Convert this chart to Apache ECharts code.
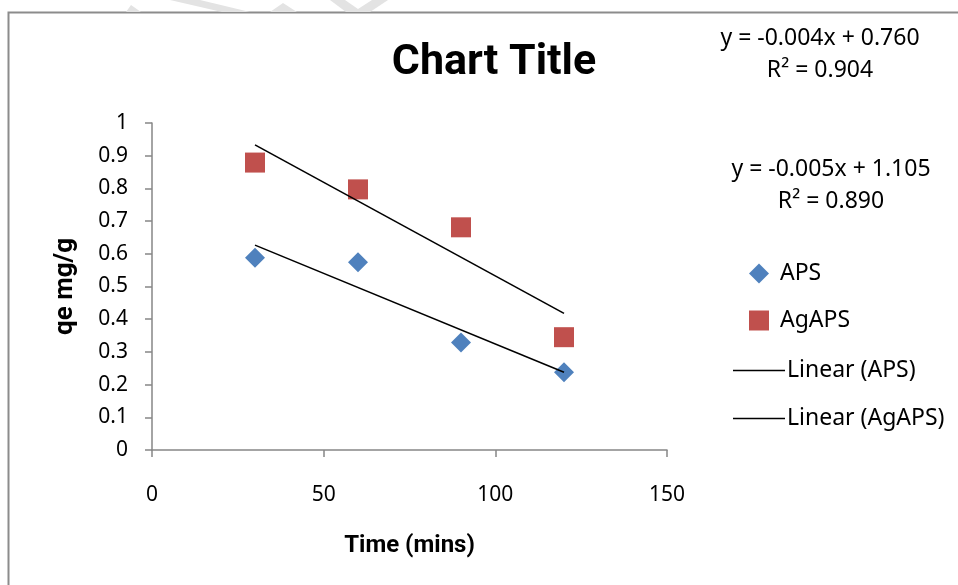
<!DOCTYPE html>
<html>
<head>
<meta charset="utf-8">
<script src="https://cdn.jsdelivr.net/npm/echarts@6/dist/echarts.min.js"></script>
<style>
  html, body { margin: 0; padding: 0; background: #fff; }
  #chart { width: 958px; height: 585px; }
</style>
</head>
<body>
<div id="chart"></div>
<script>
// Sampling times (minutes) and measured adsorption capacity qe (mg/g)
const times = [30, 60, 90, 120];
const apsValues = [0.588, 0.574, 0.329, 0.238];
const agapsValues = [0.879, 0.797, 0.681, 0.345];

// Trendline equations as printed beside the plot
const apsEquation = ['y = -0.004x + 0.760', 'R² = 0.904'];
const agapsEquation = ['y = -0.005x + 1.105', 'R² = 0.890'];

// Axis ranges
const xTicks = [0, 50, 100, 150];
const yTicks = [0, 0.1, 0.2, 0.3, 0.4, 0.5, 0.6, 0.7, 0.8, 0.9, 1];

// Least-squares fit, evaluated at the first and last sample time
function linearFit(xs, ys) {
  const n = xs.length;
  const mx = xs.reduce((a, b) => a + b, 0) / n;
  const my = ys.reduce((a, b) => a + b, 0) / n;
  let sxy = 0, sxx = 0;
  for (let i = 0; i < n; i++) {
    sxy += (xs[i] - mx) * (ys[i] - my);
    sxx += (xs[i] - mx) * (xs[i] - mx);
  }
  const slope = sxy / sxx;
  const intercept = my - slope * mx;
  const x0 = xs[0], x1 = xs[n - 1];
  return [[x0, intercept + slope * x0], [x1, intercept + slope * x1]];
}

const pair = (xs, ys) => xs.map((x, i) => [x, ys[i]]);

const textFont = '"Noto Sans", "Open Sans", sans-serif';
const boldFont = 'Roboto, "Noto Sans", sans-serif';
const axisGray = '#868686';

const chart = echarts.init(document.getElementById('chart'), null, { renderer: 'canvas' });

chart.setOption({
  animation: false,
  backgroundColor: '#ffffff',
  title: {
    text: 'Chart Title',
    left: 489,
    top: 37,
    textAlign: 'center',
    textStyle: { fontFamily: boldFont, fontWeight: 'bold', fontSize: 43, color: '#000' }
  },
  grid: { left: 152, right: 291, top: 123, bottom: 135, containLabel: false },
  xAxis: {
    type: 'value',
    min: xTicks[0],
    max: xTicks[xTicks.length - 1],
    interval: 50,
    name: 'Time (mins)',
    nameLocation: 'middle',
    nameGap: 84,
    nameTextStyle: { fontFamily: boldFont, fontWeight: 'bold', fontSize: 24, color: '#000' },
    axisLine: { show: true, lineStyle: { color: axisGray, width: 1.5 } },
    axisTick: { show: true, length: 7, lineStyle: { color: axisGray, width: 1.5 } },
    axisLabel: { margin: 35, fontFamily: textFont, fontSize: 21, color: '#000' },
    splitLine: { show: false }
  },
  yAxis: {
    type: 'value',
    min: yTicks[0],
    max: yTicks[yTicks.length - 1],
    interval: 0.1,
    name: 'qe mg/g',
    nameLocation: 'middle',
    nameGap: 74,
    nameTextStyle: { fontFamily: boldFont, fontWeight: 'bold', fontSize: 26, color: '#000' },
    axisLine: { show: true, lineStyle: { color: axisGray, width: 1.5 } },
    axisTick: { show: true, length: 7, lineStyle: { color: axisGray, width: 1.5 } },
    axisLabel: {
      margin: 24,
      fontFamily: textFont,
      fontSize: 21,
      color: '#000',
      formatter: v => String(Math.round(v * 10) / 10)
    },
    splitLine: { show: false }
  },
  legend: [
    {
      orient: 'vertical',
      left: 744,
      top: 257,
      itemWidth: 20,
      itemHeight: 20,
      itemGap: 24,
      textStyle: { fontFamily: textFont, fontSize: 23, color: '#000', padding: [0, 0, 0, 6] },
      data: [
        { name: 'APS', icon: 'diamond', itemStyle: { opacity: 1 } },
        { name: 'AgAPS', icon: 'rect', itemStyle: { opacity: 1 } }
      ]
    },
    {
      orient: 'vertical',
      left: 728,
      top: 354,
      itemWidth: 52,
      itemHeight: 1.6,
      itemGap: 25,
      textStyle: { fontFamily: textFont, fontSize: 23, color: '#000', padding: [0, 0, 0, -3] },
      data: [
        { name: 'Linear (APS)', icon: 'rect' },
        { name: 'Linear (AgAPS)', icon: 'rect' }
      ]
    }
  ],
  graphic: [
    // outer frame (top and left edges)
    { type: 'polyline', shape: { points: [[8.5, 585], [8.5, 12.5], [958, 12.5]] }, style: { stroke: '#8c8c8c', lineWidth: 2, fill: null }, silent: true },
    // faint hatched strokes along the top edge
    { type: 'polygon', shape: { points: [[126, 12], [131, 5], [141, 12]] }, style: { fill: '#e3e3e3' }, silent: true },
    { type: 'polygon', shape: { points: [[170, 0], [200, 0], [250, 12], [222, 12]] }, style: { fill: '#e3e3e3' }, silent: true },
    { type: 'polygon', shape: { points: [[270, 12], [283, 3], [297, 12]] }, style: { fill: '#e3e3e3' }, silent: true },
    { type: 'polygon', shape: { points: [[330, 0], [345, 0], [358, 9], [372, 0], [388, 0], [370, 12], [346, 12]] }, style: { fill: '#e3e3e3' }, silent: true },
    // trendline equations
    { type: 'text', style: { x: 820, y: 22, text: apsEquation.join('\n'), textAlign: 'center', font: '23px ' + textFont, fill: '#000', lineHeight: 32 }, silent: true },
    { type: 'text', style: { x: 831, y: 153, text: agapsEquation.join('\n'), textAlign: 'center', font: '23px ' + textFont, fill: '#000', lineHeight: 32 }, silent: true }
  ],
  series: [
    {
      name: 'Linear (APS)',
      type: 'line',
      data: linearFit(times, apsValues),
      showSymbol: false,
      symbol: 'none',
      lineStyle: { color: '#000', width: 1.6 },
      itemStyle: { color: '#000' },
      z: 3
    },
    {
      name: 'Linear (AgAPS)',
      type: 'line',
      data: linearFit(times, agapsValues),
      showSymbol: false,
      symbol: 'none',
      lineStyle: { color: '#000', width: 1.6 },
      itemStyle: { color: '#000' },
      z: 3
    },
    {
      name: 'APS',
      type: 'scatter',
      data: pair(times, apsValues),
      symbol: 'diamond',
      symbolSize: 20,
      itemStyle: { color: '#4F81BD', opacity: 1 },
      z: 2
    },
    {
      name: 'AgAPS',
      type: 'scatter',
      data: pair(times, agapsValues),
      symbol: 'rect',
      symbolSize: 20,
      itemStyle: { color: '#C0504D', opacity: 1 },
      z: 2
    }
  ]
});
</script>
</body>
</html>
